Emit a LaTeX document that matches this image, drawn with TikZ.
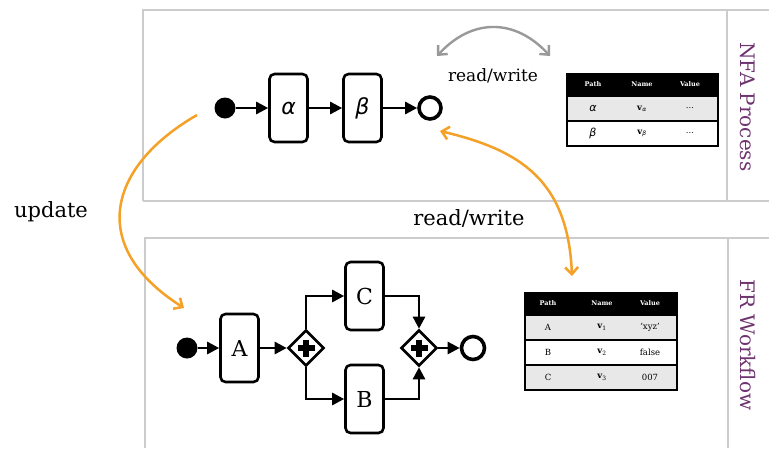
\documentclass[tikz,border=0pt]{standalone}
\usepackage{fontspec}
\setmainfont{DejaVu Serif}
\newfontfamily\greekf{DejaVu Sans}
\usetikzlibrary{arrows.meta,shapes.geometric,calc}
\definecolor{lanegray}{HTML}{CCCCCC}
\definecolor{lanepurple}{HTML}{6E3470}
\definecolor{flowor}{HTML}{F5A027}
\definecolor{rowgray}{HTML}{E8E8E8}
\definecolor{arcgray}{HTML}{999999}
\tikzset{
  lane/.style={draw=lanegray, line width=2pt},
  lanelabel/.style={text=lanepurple, font=\fontsize{20}{20}\selectfont, rotate=-90},
  task/.style={draw, rounded corners=5pt, line width=2.6pt, minimum width=38pt, minimum height=68pt, inner sep=0pt, font=\fontsize{22}{22}\selectfont},
  startev/.style={circle, fill=black, minimum size=21pt, inner sep=0pt},
  endev/.style={circle, draw, line width=3.6pt, minimum size=22pt, inner sep=0pt},
  gate/.style={diamond, draw, line width=2.6pt, minimum size=36pt, inner sep=0pt, fill=white},
  flow/.style={line width=2.6pt, -{Triangle[length=12pt,width=12pt]}},
  orflow/.style={draw=flowor, line width=2.5pt},
  lbl/.style={font=\fontsize{21}{21}\selectfont},
  hdr/.style={text=white, font=\bfseries\fontsize{6.5}{7}\selectfont},
  cell/.style={font=\fontsize{8.5}{9}\selectfont},
  tline/.style={line width=1.5pt},
}
\begin{document}
\begin{tikzpicture}[x=1pt,y=-1pt]
\useasboundingbox (0,0) rectangle (769,448);
% lanes
\draw[lane] (143,201) -- (143,10) -- (769,10);
\draw[lane] (143,201) -- (769,201);
\draw[lane] (727,10) -- (727,201);
\draw[lane] (145,448) -- (145,238) -- (769,238);
\draw[lane] (728,238) -- (728,448);
\node[lanelabel] (lnfa) at (748,107) {NFA Process};
\node[lanelabel] (lfr) at (748,345) {FR Workflow};

% top process
\node[startev] (s1) at (225,108) {};
\node[task] (alpha) at (288.5,108) {\greekf\itshape α};
\node[task] (beta) at (362.5,108) {\greekf\itshape β};
\node[endev] (e1) at (430,108) {};
\draw[flow] (s1) -- (alpha);
\draw[flow] (alpha) -- (beta);
\draw[flow] (beta) -- (e1);

% bottom process
\node[startev] (s2) at (187,348) {};
\node[task] (A) at (239.5,348) {A};
\node[gate] (g1) at (306,348) {};
\node[task] (C) at (364.5,296) {C};
\node[task] (B) at (364.5,399) {B};
\node[gate] (g2) at (419,348) {};
\node[endev, minimum size=23pt] (e2) at (473,348) {};
\draw[flow] (s2) -- (A);
\draw[flow] (A) -- (g1);
\draw[flow] (g1.north) |- (C.west);
\draw[flow] (g1.south) |- (B.west);
\draw[flow] (C.east) -| (g2.north);
\draw[flow] (B.east) -| (g2.south);
\draw[flow] (g2) -- (e2);
\foreach \g in {g1,g2}{
  \draw[line width=5.5pt] ($(\g)+(-8.5,0)$) -- ($(\g)+(8.5,0)$);
  \draw[line width=5.5pt] ($(\g)+(0,-8.5)$) -- ($(\g)+(0,8.5)$);
}

% top table
\fill[black] (567,73) rectangle (718,96);
\fill[rowgray] (567,96) rectangle (718,121);
\draw[tline] (567,73) -- (567,146) -- (718,146) -- (718,73);
\draw[tline] (567,96) -- (718,96);
\draw[tline] (567,121) -- (718,121);
\node[hdr] (tp1) at (593,84.5) {Path};
\node[hdr] (tp2) at (642,84.5) {Name};
\node[hdr] (tp3) at (690,84.5) {Value};
\node[cell] (tr11) at (593,108.5) {\greekf\itshape\fontsize{11}{11}\selectfont α};
\node[cell] (tr12) at (642,108.5) {\textbf{v}\textsubscript{\greekf\itshape α}};
\node[cell] (tr13) at (690,108.5) {...};
\node[cell] (tr21) at (593,133.5) {\greekf\itshape\fontsize{11}{11}\selectfont β};
\node[cell] (tr22) at (642,133.5) {\textbf{v}\textsubscript{\greekf\itshape β}};
\node[cell] (tr23) at (690,133.5) {...};

% bottom table
\fill[black] (525,292) rectangle (677,315);
\fill[rowgray] (525,315) rectangle (677,340);
\fill[rowgray] (525,365) rectangle (677,390);
\draw[tline] (525,292) -- (525,390) -- (677,390) -- (677,292);
\draw[tline] (525,315) -- (677,315);
\draw[tline] (525,340) -- (677,340);
\draw[tline] (525,365) -- (677,365);
\node[hdr] (bp1) at (548,303.5) {Path};
\node[hdr] (bp2) at (602,303.5) {Name};
\node[hdr] (bp3) at (650,303.5) {Value};
\node[cell] (br11) at (548,327.5) {A};
\node[cell] (br12) at (602,327.5) {\textbf{v}\textsubscript{1}};
\node[cell] (br13) at (650,327.5) {'xyz'};
\node[cell] (br21) at (548,352.5) {B};
\node[cell] (br22) at (602,352.5) {\textbf{v}\textsubscript{2}};
\node[cell] (br23) at (650,352.5) {false};
\node[cell] (br31) at (548,377.5) {C};
\node[cell] (br32) at (602,377.5) {\textbf{v}\textsubscript{3}};
\node[cell] (br33) at (650,377.5) {007};

% gray read/write arc
\coordinate (ga) at (437,56);
\coordinate (gb) at (550,56);
\draw[draw=arcgray, line width=2.4pt, {Straight Barb[length=7pt,width=13pt]}-{Straight Barb[length=7pt,width=13pt]}]
  (ga) .. controls (472,18) and (515,18) .. (gb);
\node[font=\fontsize{17}{17}\selectfont] (rw1) at (493,76) {read/write};

% update arrow
\coordinate (ua) at (197,115);
\coordinate (ub) at (184,308);
\draw[orflow, -{Straight Barb[length=7pt,width=13pt]}] (ua) .. controls (110,165) and (85,245) .. (ub);
\node[lbl] (upd) at (51,212) {update};

% read/write orange
\coordinate (ra) at (440,131);
\coordinate (rb) at (572,276);
\draw[orflow, {Straight Barb[length=7pt,width=13pt]}-{Straight Barb[length=7pt,width=13pt]}] (ra) .. controls (520,150) and (568,180) .. (rb);
\node[lbl] (rw2) at (469,218) {read/write};
\end{tikzpicture}
\end{document}
